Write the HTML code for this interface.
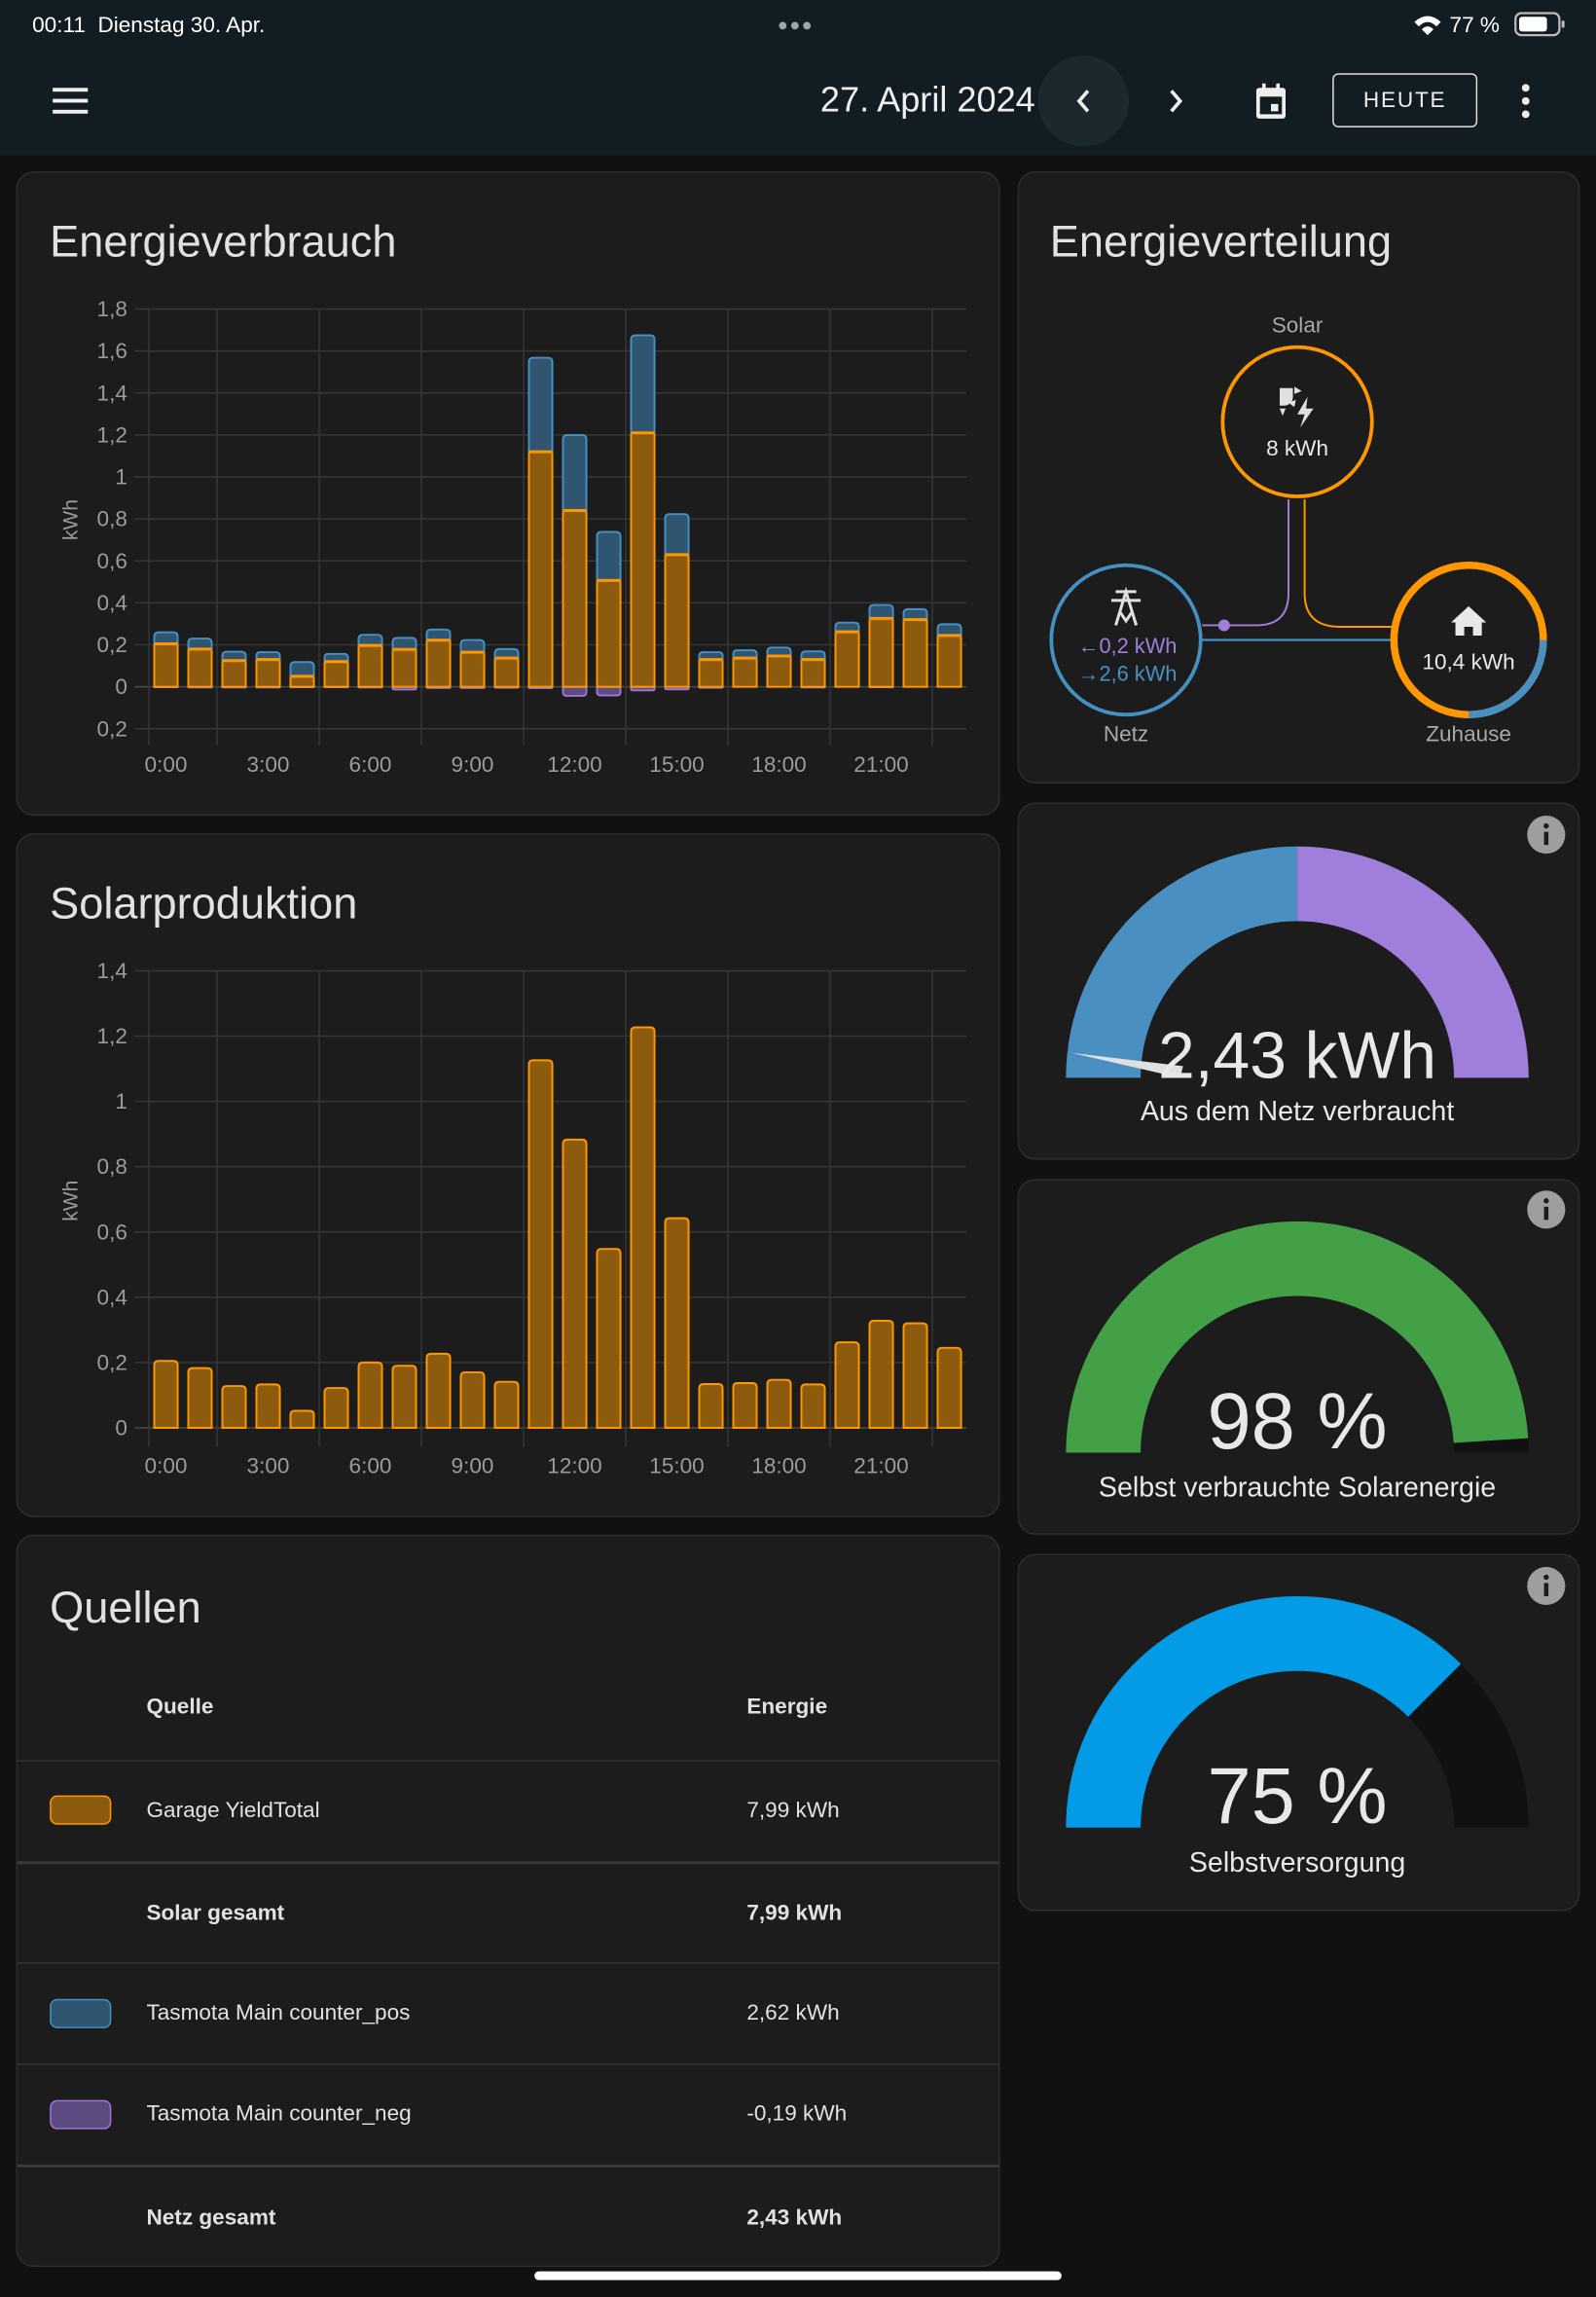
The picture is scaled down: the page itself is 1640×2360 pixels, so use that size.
<!DOCTYPE html>
<html><head><meta charset="utf-8">
<style>
html,body{margin:0;padding:0;background:#111111;width:1640px;height:2360px;overflow:hidden;}
#root{position:absolute;left:0;top:0;width:1090px;height:1568px;transform:scale(1.504587);transform-origin:0 0;font-family:"Liberation Sans",sans-serif;color:#e1e1e1;}
.abs{position:absolute;}
.card{position:absolute;background:#1c1c1c;border:1px solid #2e2e2e;border-radius:12px;box-sizing:border-box;}
.title{position:absolute;font-size:30px;color:#e1e1e1;white-space:nowrap;}
.t16{font-size:15px;white-space:nowrap;}
.row-div{position:absolute;left:0;right:0;height:1px;background:#333;}
.sw{position:absolute;left:22px;width:42px;height:20px;border-radius:5px;box-sizing:border-box;border:1.5px solid;}
</style></head>
<body>
<div id="root">
  <div class="abs" style="left:0;top:0;width:1090px;height:106px;background:#111d23;"></div>
  <div class="abs t16" style="left:22px;top:9px;font-size:15px;color:#fff;">00:11&nbsp;&nbsp;Dienstag 30. Apr.</div>
  <div class="abs" style="left:531px;top:10px;font-size:12px;color:#9aa;letter-spacing:1px;">●●●</div>
  <div class="abs t16" style="left:990px;top:9px;color:#fff;">77 %</div>
  <svg class="abs" style="left:964px;top:9px" width="22" height="16"><path d="M2 6 Q11 -2 20 6 L17 9 Q11 3 5 9Z M7 11 Q11 7 15 11 L11 15Z" fill="#fff"/></svg>
  <svg class="abs" style="left:1034px;top:8px" width="36" height="17"><rect x="1" y="1" width="30" height="15" rx="4" fill="none" stroke="#bbb" stroke-width="1.5"/><rect x="3.5" y="3.5" width="19" height="10" rx="2" fill="#fff"/><rect x="32.5" y="6" width="2" height="5" rx="1" fill="#bbb"/></svg>
  <svg class="abs" style="left:34px;top:58px" width="28" height="22"><rect x="2" y="2" width="24" height="2.6" fill="#eee"/><rect x="2" y="9.5" width="24" height="2.6" fill="#eee"/><rect x="2" y="17" width="24" height="2.6" fill="#eee"/></svg>
  <div class="abs" style="left:520px;top:55px;width:187px;text-align:right;font-size:24px;color:#eee;white-space:nowrap;">27. April 2024</div>
  <div class="abs" style="left:709px;top:38px;width:62px;height:62px;border-radius:31px;background:#1b282e;"></div>
  <svg class="abs" style="left:728px;top:57px" width="24" height="24"><polyline points="15,5 9,12 15,19" fill="none" stroke="#eee" stroke-width="2.4"/></svg>
  <svg class="abs" style="left:791px;top:57px" width="24" height="24"><polyline points="9,5 15,12 9,19" fill="none" stroke="#eee" stroke-width="2.4"/></svg>
  <svg class="abs" style="left:855px;top:55px" width="26" height="28"><rect x="3" y="5" width="20" height="21" rx="2" fill="#eee"/><rect x="5.5" y="11" width="15" height="12" fill="#111d23"/><rect x="13" y="16" width="5" height="5" fill="#eee"/><rect x="7" y="2" width="2.4" height="5" fill="#eee"/><rect x="16.6" y="2" width="2.4" height="5" fill="#eee"/></svg>
  <div class="abs" style="left:910px;top:50px;width:99px;height:37px;box-sizing:border-box;border:1px solid #ddd;border-radius:4px;text-align:center;line-height:35px;font-size:15px;letter-spacing:1.2px;color:#eee;">HEUTE</div>
  <svg class="abs" style="left:1032px;top:56px" width="20" height="26"><circle cx="10" cy="4" r="2.6" fill="#eee"/><circle cx="10" cy="13" r="2.6" fill="#eee"/><circle cx="10" cy="22" r="2.6" fill="#eee"/></svg>

  <div class="card" style="left:11px;top:117px;width:672px;height:440px;"></div>
  <div class="title" style="left:34px;top:149px;">Energieverbrauch</div>
  <div class="card" style="left:11px;top:569px;width:672px;height:467px;"></div>
  <div class="title" style="left:34px;top:601px;">Solarproduktion</div>
  <div class="card" style="left:11px;top:1048px;width:672px;height:500px;overflow:hidden;">
    <div class="title" style="left:22px;top:33px;">Quellen</div>
    <div class="abs t16" style="left:88px;top:108px;font-weight:bold;">Quelle</div>
    <div class="abs t16" style="left:498px;top:108px;font-weight:bold;">Energie</div>
    <div class="row-div" style="top:153px;"></div>
    <div class="sw" style="top:177px;background:#8d5b0e;border-color:#ff9800;"></div>
    <div class="abs t16" style="left:88px;top:179px;">Garage YieldTotal</div>
    <div class="abs t16" style="left:498px;top:179px;">7,99 kWh</div>
    <div class="row-div" style="top:222px;height:2px;background:#3a3a3a;"></div>
    <div class="abs t16" style="left:88px;top:249px;font-weight:bold;">Solar gesamt</div>
    <div class="abs t16" style="left:498px;top:249px;font-weight:bold;">7,99 kWh</div>
    <div class="row-div" style="top:291px;"></div>
    <div class="sw" style="top:316px;background:#2f5570;border-color:#4590c3;"></div>
    <div class="abs t16" style="left:88px;top:317px;">Tasmota Main counter_pos</div>
    <div class="abs t16" style="left:498px;top:317px;">2,62 kWh</div>
    <div class="row-div" style="top:360px;"></div>
    <div class="sw" style="top:385px;background:#5c4a80;border-color:#9d75d8;"></div>
    <div class="abs t16" style="left:88px;top:386px;">Tasmota Main counter_neg</div>
    <div class="abs t16" style="left:498px;top:386px;">-0,19 kWh</div>
    <div class="row-div" style="top:429px;height:2px;background:#3a3a3a;"></div>
    <div class="abs t16" style="left:88px;top:457px;font-weight:bold;">Netz gesamt</div>
    <div class="abs t16" style="left:498px;top:457px;font-weight:bold;">2,43 kWh</div>
  </div>

  <div class="card" style="left:695px;top:117px;width:384px;height:418px;"></div>
  <div class="title" style="left:717px;top:149px;">Energieverteilung</div>
  <div class="card" style="left:695px;top:548px;width:384px;height:244px;"></div>
  <div class="card" style="left:695px;top:805px;width:384px;height:243px;"></div>
  <div class="card" style="left:695px;top:1061px;width:384px;height:244px;"></div>

  <svg class="abs" style="left:0;top:0" width="1090" height="1568" font-family="Liberation Sans, sans-serif">
    <path d="M880 341 L880 405 Q880 427 858 427 L821 427" fill="none" stroke="#a07fdc" stroke-width="1.3"/>
    <circle cx="836" cy="427" r="4" fill="#a07fdc"/>
    <path d="M891 341 L891 405 Q891 428 915 428 L951 428" fill="none" stroke="#ff9800" stroke-width="1.3"/>
    <line x1="821" y1="437" x2="951" y2="437" stroke="#4590c3" stroke-width="1.5"/>
    <text x="886" y="227" text-anchor="middle" font-size="15" fill="#a8a8a8">Solar</text>
    <circle cx="886" cy="288" r="51" fill="none" stroke="#ff9800" stroke-width="2.5"/>
    <g fill="#e0e0e0">
      <path d="M874 265 h9 v6 a6 6 0 0 1 -6 6 h-3z"/><polygon points="874,279 878,279 876,284"/><polygon points="884,264 889,267 884,269"/><polygon points="880,275 885,273 884,278"/>
      <polygon points="893,271 886,283 891,283 888,292 897,279 892,279"/>
    </g>
    <text x="886" y="311" text-anchor="middle" font-size="15" fill="#e8e8e8">8 kWh</text>
    <circle cx="769" cy="437" r="51" fill="none" stroke="#4590c3" stroke-width="2.5"/>
    <g stroke="#e0e0e0" stroke-width="2" fill="none">
      <line x1="762" y1="404" x2="776" y2="404"/><line x1="759" y1="410" x2="779" y2="410"/><polyline points="762,427 769,404 776,427"/><polyline points="765,418 769,424 773,418"/>
    </g>
    <text x="770" y="446" text-anchor="middle" font-size="14.5" fill="#a07fdc">←0,2 kWh</text>
    <text x="770" y="465" text-anchor="middle" font-size="14.5" fill="#4a8fc2">→2,6 kWh</text>
    <text x="769" y="506" text-anchor="middle" font-size="15" fill="#a8a8a8">Netz</text>
    <circle cx="1003" cy="437" r="51" fill="none" stroke="#ff9800" stroke-width="5"/>
    <path d="M1054 437 A51 51 0 0 1 1003 488" fill="none" stroke="#4a8fc2" stroke-width="5"/>
    <polygon points="1003,414 991,425 994,425 994,434 1012,434 1012,425 1015,425" fill="#e8e8e8"/>
    <rect x="1000" y="428" width="6" height="6" fill="#1c1c1c"/>
    <text x="1003" y="457" text-anchor="middle" font-size="15" fill="#e8e8e8">10,4 kWh</text>
    <text x="1003" y="506" text-anchor="middle" font-size="15" fill="#a8a8a8">Zuhause</text>

    <circle cx="1056" cy="570" r="13" fill="#9e9e9e"/>
    <rect x="1054.5" y="568" width="3" height="9" fill="#1c1c1c"/><circle cx="1056" cy="564" r="1.8" fill="#1c1c1c"/>
    <path d="M728 736 A158 158 0 0 1 886 578 L886 629 A107 107 0 0 0 779 736Z" fill="#4a8fc2"/>
    <path d="M886 578 A158 158 0 0 1 1044 736 L993 736 A107 107 0 0 0 886 629Z" fill="#a07fdc"/>
    <polygon points="732,719 808,728 806,736" fill="#e0e0e0"/>
    <text x="886" y="736" text-anchor="middle" font-size="45" fill="#e8e8e8">2,43 kWh</text>
    <text x="886" y="765" text-anchor="middle" font-size="19" fill="#e8e8e8">Aus dem Netz verbraucht</text>

    <circle cx="1056" cy="826" r="13" fill="#9e9e9e"/>
    <rect x="1054.5" y="824" width="3" height="9" fill="#1c1c1c"/><circle cx="1056" cy="820" r="1.8" fill="#1c1c1c"/>
    <path id="g2track" fill="#111111"/>
    <path id="g2val" fill="#43a047"/>
    <text x="886" y="989" text-anchor="middle" font-size="54" fill="#e8e8e8">98 %</text>
    <text x="886" y="1022" text-anchor="middle" font-size="19" fill="#e8e8e8">Selbst verbrauchte Solarenergie</text>

    <circle cx="1056" cy="1083" r="13" fill="#9e9e9e"/>
    <rect x="1054.5" y="1081" width="3" height="9" fill="#1c1c1c"/><circle cx="1056" cy="1077" r="1.8" fill="#1c1c1c"/>
    <path id="g3track" fill="#111111"/>
    <path id="g3val" fill="#039be5"/>
    <text x="886" y="1245" text-anchor="middle" font-size="54" fill="#e8e8e8">75 %</text>
    <text x="886" y="1278" text-anchor="middle" font-size="19" fill="#e8e8e8">Selbstversorgung</text>

    <rect x="365" y="1551" width="360" height="6" rx="3" fill="#ffffff"/>
  </svg>

  <svg id="chart1" class="abs" style="left:0;top:0" width="1090" height="1568" font-family="Liberation Sans, sans-serif"></svg>
  <svg id="chart2" class="abs" style="left:0;top:0" width="1090" height="1568" font-family="Liberation Sans, sans-serif"></svg>
</div>
<script>
const hourLabels = ['0:00','1:00','2:00','3:00','4:00','5:00','6:00','7:00','8:00','9:00','10:00','11:00','12:00','13:00','14:00','15:00','16:00','17:00','18:00','19:00','20:00','21:00','22:00','23:00'];
const xTickLabels = ['0:00','3:00','6:00','9:00','12:00','15:00','18:00','21:00'];
const solarUsed = [0.205,0.18,0.125,0.13,0.05,0.12,0.197,0.178,0.222,0.165,0.137,1.12,0.84,0.507,1.21,0.63,0.13,0.137,0.147,0.13,0.262,0.326,0.32,0.245];
const gridImport = [0.055,0.05,0.042,0.035,0.068,0.037,0.051,0.055,0.051,0.058,0.043,0.448,0.36,0.231,0.465,0.193,0.035,0.037,0.04,0.039,0.044,0.064,0.05,0.053];
const gridExport = [-0.002,-0.003,-0.003,-0.003,-0.002,-0.002,-0.003,-0.013,-0.005,-0.005,-0.004,-0.006,-0.043,-0.041,-0.017,-0.012,-0.004,0,0,-0.003,0,-0.002,0,0];
const solarProduction = [0.205,0.183,0.128,0.133,0.052,0.122,0.2,0.19,0.227,0.17,0.141,1.126,0.883,0.548,1.227,0.642,0.134,0.137,0.147,0.133,0.262,0.328,0.32,0.245];
const usageYTicks = [1.8,1.6,1.4,1.2,1,0.8,0.6,0.4,0.2,0,-0.2];
const usageYLabels = ['1,8','1,6','1,4','1,2','1','0,8','0,6','0,4','0,2','0','0,2'];
const solarYTicks = [1.4,1.2,1,0.8,0.6,0.4,0.2,0];
const solarYLabels = ['1,4','1,2','1','0,8','0,6','0,4','0,2','0'];
const gaugeSolarPct = [98];
const gaugeSelfPct = [75];

const NS = 'http://www.w3.org/2000/svg';
function mk(parent, tag, attrs){ const e=document.createElementNS(NS,tag); for(const k in attrs) e.setAttribute(k,attrs[k]); parent.appendChild(e); return e; }

const X0 = 101.7, X1 = 660, slot = (X1-X0)/hourLabels.length, barW = 16;
function xCenter(i){ return X0 + slot*(i+0.5); }

function topRounded(x,y,w,h,r){
  r=Math.min(r,h/2,w/2); if(h<=0) return '';
  return `M${x} ${y+h} V${y+r} Q${x} ${y} ${x+r} ${y} H${x+w-r} Q${x+w} ${y} ${x+w} ${y+r} V${y+h}Z`;
}
function botRounded(x,y,w,h,r){
  r=Math.min(r,h/2,w/2); if(h<=0) return '';
  return `M${x} ${y} V${y+h-r} Q${x} ${y+h} ${x+r} ${y+h} H${x+w-r} Q${x+w} ${y+h} ${x+w} ${y+h-r} V${y}Z`;
}

function drawAxes(svg, yTicks, yLabels, yScale, yTop, vBottom, xLabelY, unitY){
  const g = mk(svg,'g',{});
  
  
  yTicks.forEach((v,i)=>{
    const y=yScale(v);
    const l=mk(g,'line',{x1:92,x2:X1,y1:y,y2:y,stroke: v===0?'#4a4a4a':'#363636','stroke-width':1});
    
    
    const t=mk(g,'text',{x:87,y:y+5,'text-anchor':'end','font-size':15,fill:'#9b9b9b'});
    t.textContent=yLabels[i];
    
    
  });
  const vIdx=[0]; for(let k=2;k<=hourLabels.length;k+=3) vIdx.push(k);
  vIdx.forEach(k=>{
    const x=X0+slot*k;
    const l=mk(g,'line',{x1:x,x2:x,y1:yTop,y2:vBottom,stroke:'#363636','stroke-width':1});
    
    
  });
  xTickLabels.forEach(lab=>{
    const i=hourLabels.indexOf(lab);
    const t=mk(g,'text',{x:xCenter(i),y:xLabelY,'text-anchor':'middle','font-size':15,fill:'#9b9b9b'});
    t.textContent=lab;
    
    
  });
  const u=mk(g,'text',{x:0,y:0,'text-anchor':'middle','font-size':14,fill:'#9b9b9b',transform:`translate(53 ${unitY}) rotate(-90)`});
  u.textContent='kWh';
  
  
}

(function(){
  const svg=document.getElementById('chart1');
  const zeroY=469, pxPerKwh=143.3;
  const y=v=>zeroY - v*pxPerKwh;
  drawAxes(svg, usageYTicks, usageYLabels, y, 211, 509, 527, 355);
  hourLabels.forEach((h,i)=>{
    const x=xCenter(i)-barW/2;
    const o=solarUsed[i], b=gridImport[i], n=gridExport[i];
    if(n<0){
      const p=mk(svg,'path',{d:botRounded(x,zeroY,barW,y(n)-zeroY,2.5),fill:'#5c4a80',stroke:'#9d75d8','stroke-width':1.3});
      
      
    }
    const r=mk(svg,'rect',{x:x,y:y(o),width:barW,height:zeroY-y(o),fill:'#8d5b0e',stroke:'#ff9800','stroke-width':1.3});
    
    
    const p=mk(svg,'path',{d:topRounded(x,y(o+b),barW,y(o)-y(o+b),3),fill:'#2f5570',stroke:'#4590c3','stroke-width':1.3});
    
    
    const t=mk(svg,'line',{x1:x,x2:x+barW,y1:y(o),y2:y(o),stroke:'#ff9800','stroke-width':2});
    
    
  });
})();

(function(){
  const svg=document.getElementById('chart2');
  const zeroY=975, pxPerKwh=222.9;
  const y=v=>zeroY - v*pxPerKwh;
  drawAxes(svg, solarYTicks, solarYLabels, y, 663, 988, 1006, 820);
  solarProduction.forEach((v,i)=>{
    const x=xCenter(i)-barW/2;
    const p=mk(svg,'path',{d:topRounded(x,y(v),barW,zeroY-y(v),3),fill:'#8d5b0e',stroke:'#ff9800','stroke-width':1.3});
    
    
  });
})();

function arcPath(cx,cy,R,r,a0,a1){
  const pt=(rad,a)=>{const t=Math.PI*(1-a/180); return [cx+rad*Math.cos(t), cy-rad*Math.sin(t)];};
  const [x0,y0]=pt(R,a0),[x1,y1]=pt(R,a1),[x2,y2]=pt(r,a1),[x3,y3]=pt(r,a0);
  return `M${x0} ${y0} A${R} ${R} 0 0 1 ${x1} ${y1} L${x2} ${y2} A${r} ${r} 0 0 0 ${x3} ${y3}Z`;
}
document.getElementById('g2track').setAttribute('d',arcPath(886,992,158,107,0,180));
document.getElementById('g2val').setAttribute('d',arcPath(886,992,158,107,0,gaugeSolarPct[0]*1.8));
document.getElementById('g3track').setAttribute('d',arcPath(886,1248,158,107,0,180));
document.getElementById('g3val').setAttribute('d',arcPath(886,1248,158,107,0,gaugeSelfPct[0]*1.8));
</script>
</body></html>
